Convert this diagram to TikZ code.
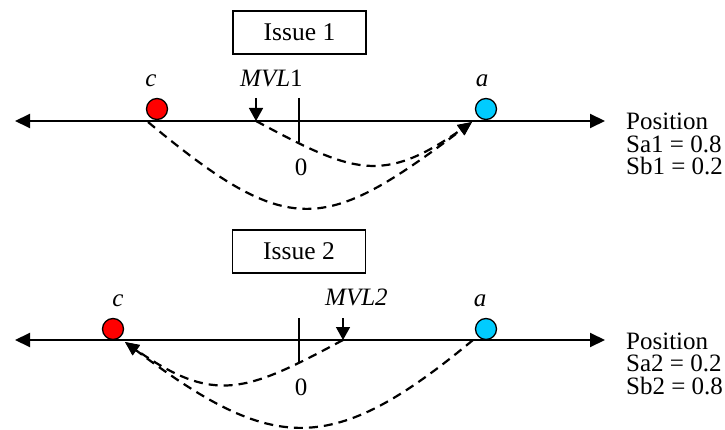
\documentclass[tikz,border=0pt]{standalone}
\usepackage{fontspec}
\setmainfont{Liberation Serif}
\usetikzlibrary{arrows.meta}
\definecolor{redc}{RGB}{255,0,0}
\definecolor{cyanc}{RGB}{0,204,255}
\begin{document}
\begin{tikzpicture}[x=1pt,y=-1pt,
  txt/.style={inner sep=0pt,anchor=base,font=\fontsize{25}{28}\selectfont},
  sidetxt/.style={inner sep=0pt,anchor=base west,align=left,font=\fontsize{25}{22.5}\selectfont},
  boxnode/.style={draw,line width=1.3pt,minimum width=133pt,minimum height=43pt,inner sep=0pt,font=\fontsize{25.5}{28}\selectfont},
  axis/.style={line width=2pt,{Triangle[length=15pt,width=14pt]}-{Triangle[length=15pt,width=14pt]}},
  dot/.style={circle,draw,line width=1.3pt,minimum size=21pt,inner sep=0pt},
  tick/.style={line width=1.3pt},
  mvlarrow/.style={line width=1.5pt,-{Triangle[length=13pt,width=14pt]}},
  move/.style={line width=2.2pt,dash pattern=on 9pt off 6pt,-{Triangle[length=14pt,width=12pt]}}
]
\useasboundingbox (0,0) rectangle (725,430);

% ---------- Issue 1 ----------
\node[boxnode] (box1) at (299.5,32.5) {Issue 1};
\coordinate (l1) at (15,121);
\coordinate (r1) at (605,121);
\draw[axis] (l1) -- (r1);
\node[dot,fill=redc] (c1) at (157,109) {};
\node[dot,fill=cyanc] (a1) at (486,109) {};
\node[txt] (lc1) at (151,87) {\itshape c};
\node[txt] (la1) at (482,87) {\itshape a};
\node[txt,anchor=base west] (lm1) at (240,87) {\textit{MVL}1};
\coordinate (t1a) at (299,98);
\coordinate (t1b) at (299,142);
\draw[tick] (t1a) -- (t1b);
\node[txt] (z1) at (301,176) {0};
\coordinate (m1top) at (256,98);
\coordinate (m1) at (256,121);
\draw[mvlarrow] (m1top) -- (m1);
\coordinate (cs1) at (148,122);
\coordinate (ae1) at (472,122);
\draw[move] (m1) .. controls (353,173) and (382,185) .. (ae1);
\draw[move] (cs1) .. controls (290,240) and (324,233) .. (ae1);
\node[sidetxt] (p1) at (626,175) {Position\\Sa1 = 0.8\\Sb1 = 0.2};

% ---------- Issue 2 ----------
\node[boxnode] (box2) at (299,251.5) {Issue 2};
\coordinate (l2) at (15,340);
\coordinate (r2) at (605,340);
\draw[axis] (l2) -- (r2);
\node[dot,fill=redc] (c2) at (113,329) {};
\node[dot,fill=cyanc] (a2) at (486,329) {};
\node[txt] (lc2) at (118,306) {\itshape c};
\node[txt] (la2) at (480,306) {\itshape a};
\node[txt,anchor=base west] (lm2) at (325,305) {\textit{MVL2}};
\coordinate (t2a) at (299,318);
\coordinate (t2b) at (299,362);
\draw[tick] (t2a) -- (t2b);
\node[txt] (z2) at (301,395) {0};
\coordinate (m2top) at (343,318);
\coordinate (m2) at (343,340);
\draw[mvlarrow] (m2top) -- (m2);
\coordinate (as2) at (473,340);
\coordinate (ce2) at (125,342);
\draw[move] (m2) .. controls (246,392) and (215,405) .. (ce2);
\draw[move] (as2) .. controls (331,458) and (273,453) .. (ce2);
\node[sidetxt] (p2) at (626,394) {Position\\Sa2 = 0.2\\Sb2 = 0.8};
\end{tikzpicture}
\end{document}
